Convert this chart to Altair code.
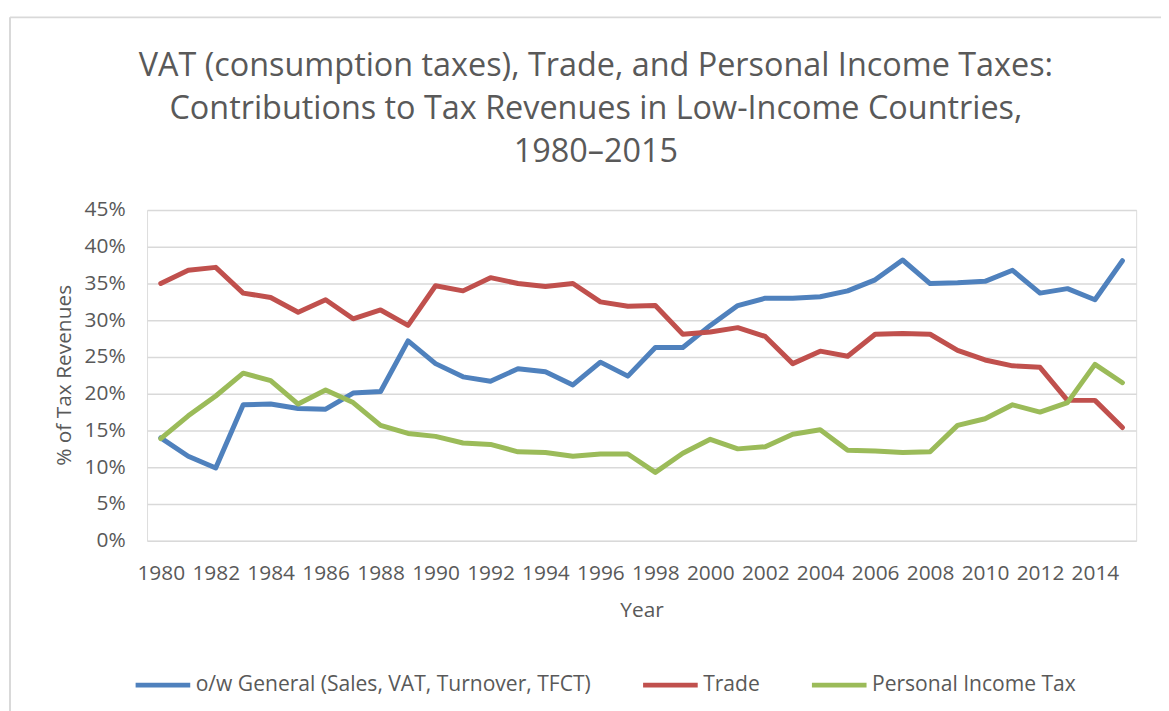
import altair as alt
import pandas as pd

years = list(range(1980, 2016))

general = [14.0, 11.5, 9.9, 18.5, 18.6, 18.0, 17.9, 20.1, 20.3, 27.2,
           24.1, 22.3, 21.7, 23.4, 23.0, 21.2, 24.3, 22.4, 26.3, 26.3,
           29.3, 32.0, 33.0, 33.0, 33.2, 34.0, 35.5, 38.2, 35.0, 35.1,
           35.3, 36.8, 33.7, 34.3, 32.8, 38.1]

trade = [35.0, 36.8, 37.2, 33.7, 33.1, 31.1, 32.8, 30.2, 31.4, 29.3,
         34.7, 34.0, 35.8, 35.0, 34.6, 35.0, 32.5, 31.9, 32.0, 28.1,
         28.4, 29.0, 27.8, 24.1, 25.8, 25.1, 28.1, 28.2, 28.1, 25.9,
         24.6, 23.8, 23.6, 19.1, 19.1, 15.4]

pit = [13.9, 17.0, 19.7, 22.8, 21.8, 18.6, 20.5, 18.8, 15.7, 14.6,
       14.2, 13.3, 13.1, 12.1, 12.0, 11.5, 11.8, 11.8, 9.3, 11.9,
       13.8, 12.5, 12.8, 14.5, 15.1, 12.3, 12.2, 12.0, 12.1, 15.7,
       16.6, 18.5, 17.5, 18.8, 24.0, 21.5]

series_names = ["o/w General (Sales, VAT, Turnover, TFCT)", "Trade", "Personal Income Tax"]
series_colors = ["#4F81BD", "#C0504D", "#9BBB59"]
y_ticks = [0, 5, 10, 15, 20, 25, 30, 35, 40, 45]
x_ticks = list(range(1980, 2015, 2))

rows = []
for name, vals in zip(series_names, [general, trade, pit]):
    for yr, v in zip(years, vals):
        rows.append({"Year": yr, "Series": name, "Value": v})
df = pd.DataFrame(rows)

FONT = "Open Sans"
GREY = "#595959"

lines = alt.Chart(df).mark_line(strokeWidth=5, strokeCap="round", strokeJoin="round").encode(
    x=alt.X("Year:Q",
            scale=alt.Scale(domain=[1979.5, 2015.5], nice=False, zero=False),
            axis=alt.Axis(values=x_ticks, format="d", grid=False, domain=False, ticks=False,
                          tickSize=0, labelPadding=22, labelFontSize=21, labelFont=FONT,
                          labelColor=GREY, title="Year", titleFontSize=21, titleFont=FONT,
                          titleColor=GREY, titleFontWeight="normal", titleY=70,
                          titleBaseline="middle", labelOverlap=False)),
    y=alt.Y("Value:Q",
            scale=alt.Scale(domain=[0, 45], nice=False),
            axis=alt.Axis(values=y_ticks, labelExpr="datum.value + '%'", domain=False,
                          ticks=False, tickSize=0, labelPadding=22, labelFontSize=21,
                          labelFont=FONT, labelColor=GREY, gridColor="#d9d9d9",
                          gridWidth=1.5, title="% of Tax Revenues", titleFontSize=21,
                          titleFont=FONT, titleColor=GREY, titleFontWeight="normal",
                          titleX=-83, titleY=166, titleBaseline="middle", titleAngle=-90)),
    color=alt.Color("Series:N",
                    scale=alt.Scale(domain=series_names, range=series_colors),
                    sort=series_names,
                    legend=alt.Legend(title=None, orient="none", direction="horizontal",
                                      legendX=-14, legendY=448, symbolType="stroke",
                                      symbolSize=3025, symbolStrokeWidth=5,
                                      labelFontSize=21.2, labelFont=FONT, labelColor=GREY,
                                      labelOffset=3, columnPadding=42, labelLimit=600)),
)

frame_left = alt.Chart(alt.Data(values=[{"a": 1}])).mark_rule(color="#d9d9d9", strokeWidth=2).encode(
    x=alt.value(-138), y=alt.value(-194), y2=alt.value(600))
frame_top = alt.Chart(alt.Data(values=[{"a": 1}])).mark_rule(color="#d9d9d9", strokeWidth=2).encode(
    x=alt.value(-138), x2=alt.value(1100), y=alt.value(-194))

chart = alt.layer(frame_left, frame_top, lines).properties(
    width=996, height=333,
    title=alt.TitleParams(
        text=["VAT (consumption taxes), Trade, and Personal Income Taxes:",
              "Contributions to Tax Revenues in Low-Income Countries,",
              "1980\u20132015"],
        fontSize=32.6, font=FONT, color=GREY, fontWeight="normal", anchor="middle",
        dx=-46, offset=-153, lineHeight=43),
    autosize=alt.AutoSizeParams(type="none"),
    padding={"left": 140, "top": 201, "right": 25, "bottom": 169},
).configure_view(stroke=None).configure(background="white")

chart.save("out.html", embed_options={"renderer": "svg", "actions": False})
